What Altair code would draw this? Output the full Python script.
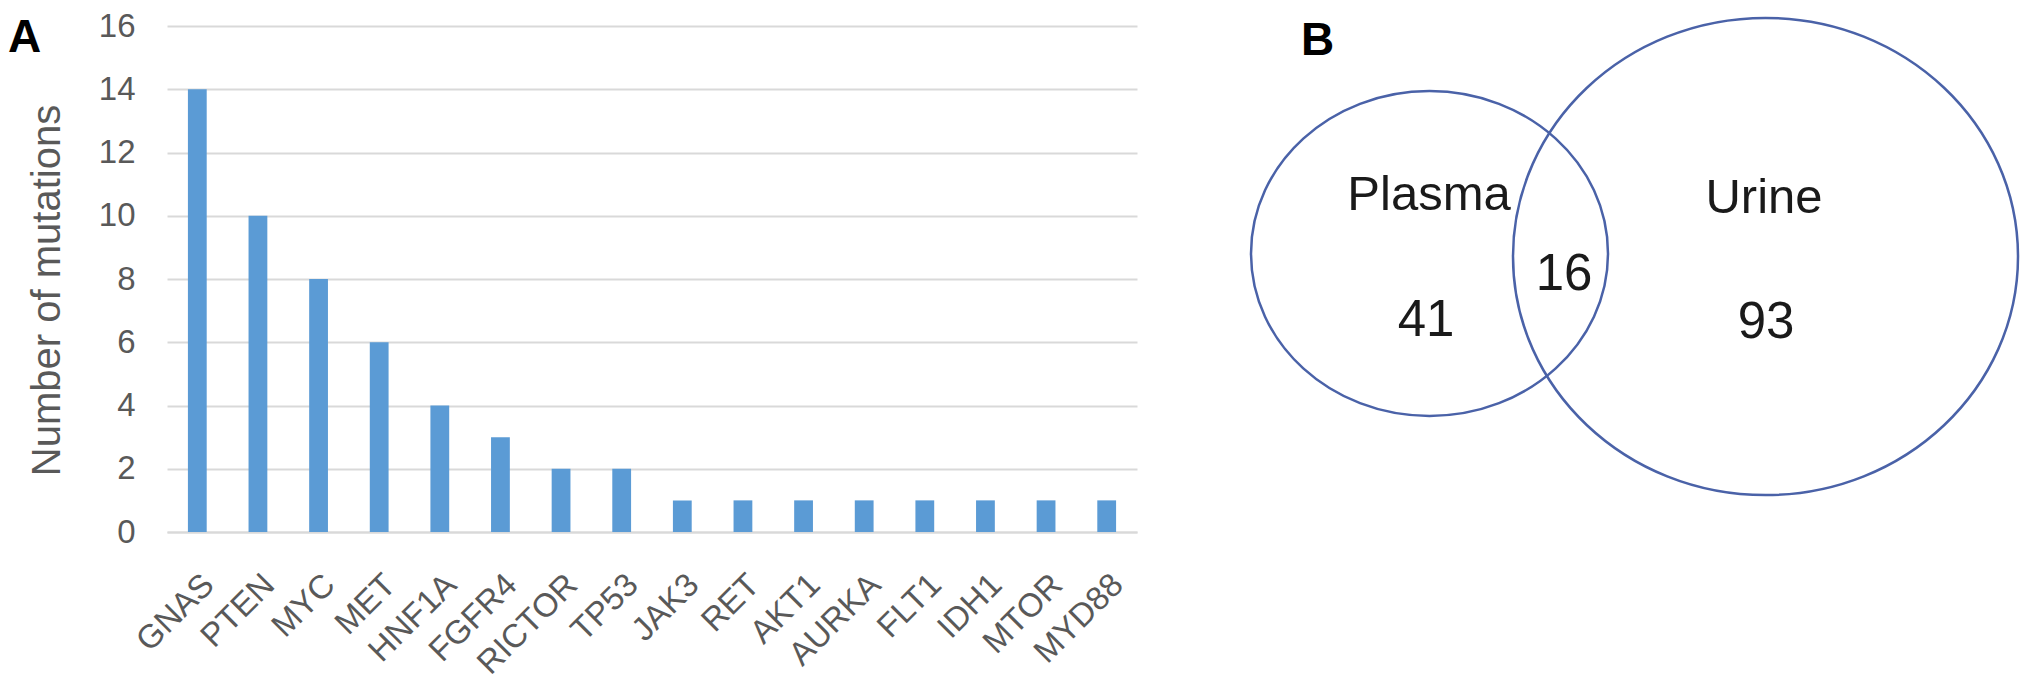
import altair as alt
import pandas as pd

# ---------------- data ----------------
genes = ["GNAS", "PTEN", "MYC", "MET", "HNF1A", "FGFR4", "RICTOR", "TP53",
         "JAK3", "RET", "AKT1", "AURKA", "FLT1", "IDH1", "MTOR", "MYD88"]
mutations = [14, 10, 8, 6, 4, 3, 2, 2, 1, 1, 1, 1, 1, 1, 1, 1]
y_ticks = [0, 2, 4, 6, 8, 10, 12, 14, 16]

set_names = ["Plasma", "Urine"]
region_names = ["Plasma only", "Both", "Urine only"]
region_counts = [41, 16, 93]

# ---------------- style ----------------
FONT = "Liberation Sans"
GRAY = "#595959"
BAR = "#5B9BD5"
GRID = "#D9D9D9"
VENN = "#4A62A8"
INK = "#1A1A1A"

# ---------------- panel A ----------------
bars_df = pd.DataFrame({"gene": genes, "n": mutations})

bars = alt.Chart(bars_df).mark_bar(color=BAR).encode(
    x=alt.X("gene:N", sort=genes,
            scale=alt.Scale(paddingInner=0.69, paddingOuter=0.345),
            axis=alt.Axis(title=None, labelAngle=-45, labelFontSize=33, labelColor=GRAY,
                          labelFont=FONT, ticks=False, labelPadding=36, domain=True,
                          domainColor=GRID, domainWidth=2, grid=False)),
    y=alt.Y("n:Q", scale=alt.Scale(domain=[0, 16], nice=False),
            axis=alt.Axis(values=y_ticks, title="Number of mutations", titleFontSize=40,
                          titleFont=FONT, titleFontWeight="normal", titleColor=GRAY,
                          titlePadding=31, titleY=264, labelFontSize=33, labelColor=GRAY,
                          labelFont=FONT, labelPadding=32, ticks=False, domain=False, grid=True,
                          gridColor=GRID, gridWidth=2)),
)

letter_a = alt.Chart(pd.DataFrame({"t": ["A"]})).mark_text(
    font=FONT, fontSize=46, fontWeight="bold", align="left", baseline="alphabetic", color="black"
).encode(text="t:N", x=alt.value(-159), y=alt.value(26))

panel_a = alt.layer(bars, letter_a).properties(width=970, height=506)

# ---------------- panel B ----------------
BW, BH = 785, 480


def ellipse_path(aspect):
    return f"M -1 0 A 1 {aspect} 0 1 1 1 0 A 1 {aspect} 0 1 1 -1 0 Z"


circle_layout = {"cx": [192.5, 528.5], "cy": [227.5, 230.5], "w": [357, 505], "aspect": [0.91, 0.945]}
circles_df = pd.DataFrame({
    "set": set_names,
    "cx": circle_layout["cx"],
    "cy": circle_layout["cy"],
    "size": [w * w for w in circle_layout["w"]],
    "shape": [ellipse_path(a) for a in circle_layout["aspect"]],
})

xs = alt.Scale(domain=[0, BW], nice=False, zero=False)
ys = alt.Scale(domain=[BH, 0], nice=False, zero=False)

circles = alt.Chart(circles_df).mark_point(filled=False, strokeWidth=2.5, color=VENN, opacity=1).encode(
    x=alt.X("cx:Q", scale=xs, axis=None),
    y=alt.Y("cy:Q", scale=ys, axis=None),
    size=alt.Size("size:Q", scale=None, legend=None),
    shape=alt.Shape("shape:N", scale=None, legend=None),
)

set_label_df = pd.DataFrame({"label": set_names, "x": [192, 527], "y": [184, 187]})
set_labels = alt.Chart(set_label_df).mark_text(
    font=FONT, fontSize=49, color=INK, align="center", baseline="alphabetic"
).encode(x=alt.X("x:Q", scale=xs, axis=None), y=alt.Y("y:Q", scale=ys, axis=None), text="label:N")

count_df = pd.DataFrame({"region": region_names, "count": region_counts,
                         "x": [189, 327, 529], "y": [310, 264, 312]})
counts = alt.Chart(count_df).mark_text(
    font=FONT, fontSize=51, color=INK, align="center", baseline="alphabetic"
).encode(x=alt.X("x:Q", scale=xs, axis=None), y=alt.Y("y:Q", scale=ys, axis=None), text="count:Q")

letter_b = alt.Chart(pd.DataFrame({"t": ["B"]})).mark_text(
    font=FONT, fontSize=46, fontWeight="bold", align="left", baseline="alphabetic", color="black"
).encode(text="t:N", x=alt.value(64), y=alt.value(29))

panel_b = alt.layer(circles, set_labels, counts, letter_b).properties(width=BW, height=BH)

chart = alt.hconcat(panel_a, panel_b, spacing=100).properties(
    padding={"left": 0, "top": 2, "right": 0, "bottom": 0},
    background="white",
).configure_view(stroke=None)

chart.save("out.html", embed_options={"renderer": "svg", "actions": False})
